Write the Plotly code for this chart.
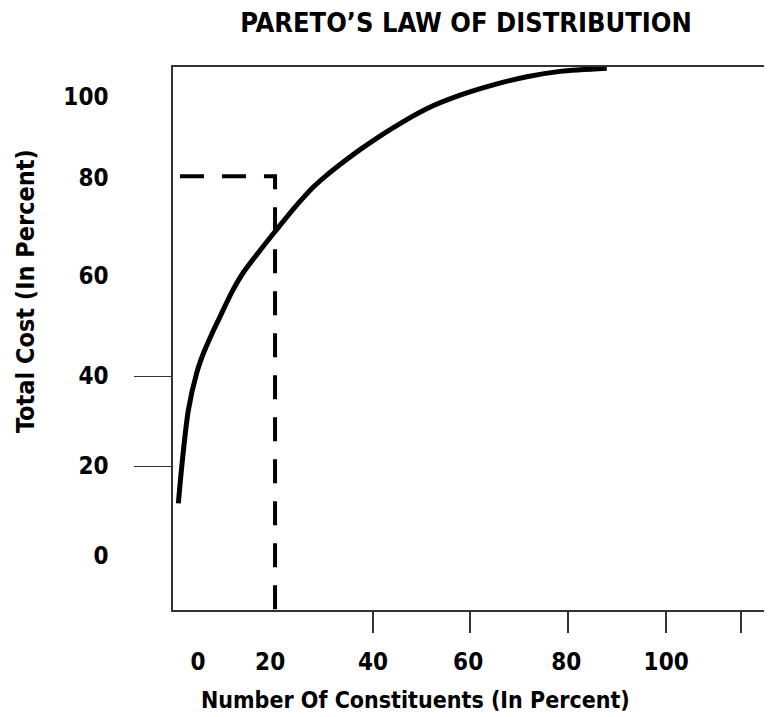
import plotly.graph_objects as go

# Curve (x: % of constituents, y: % of total cost)
curve_x = [0.27, 0.96, 2.31, 4.02, 5.37, 7.08, 8.78, 11.16, 13.53, 16.94, 20.0, 23.73, 27.82, 30.5, 33.27,
           37.35, 44.14, 50.96, 57.76, 64.55, 71.37, 78.16, 87.69]
curve_y = [11.7, 19.8, 32.4, 40.7, 45.0, 49.3, 53.2, 58.6, 63.0, 67.9, 72.1, 77.1, 82.0, 84.6, 87.0,
           90.3, 95.2, 99.4, 102.4, 104.7, 106.5, 107.7, 108.4]

# Dashed 20/80 guide
guide_x = [0.6, 20.0, 20.0]
guide_y = [84.4, 84.4, -12.0]

# Tick labels as placed in the picture
xtick_labels = ["0", "20", "40", "60", "80", "100"]
xtick_pos = [4.3, 19.0, 40.0, 59.4, 79.4, 99.8]
xtick_marks = [40.0, 59.8, 79.8, 99.8, 115.1]

ytick_labels = ["0", "20", "40", "60", "80", "100"]
ytick_pos = [0.0, 20.0, 40.0, 62.4, 84.0, 102.2]
ytick_marks = [20.0, 40.0]

x_range = [-0.82, 121.4]
y_range = [-12.0, 108.67]

FONT = "Liberation Sans Narrow, DejaVu Sans Condensed, Arial Narrow, sans-serif"

fig = go.Figure()
fig.add_trace(go.Scatter(x=curve_x, y=curve_y, mode="lines",
                         line=dict(color="black", width=5, shape="spline", smoothing=0.8),
                         hoverinfo="skip", showlegend=False))
fig.add_trace(go.Scatter(x=guide_x, y=guide_y, mode="lines", xaxis="x2", yaxis="y2",
                         line=dict(color="black", width=4, dash="24px,18px"),
                         hoverinfo="skip", showlegend=False))

axis_font = dict(family=FONT, size=24, color="black", weight="bold")

W, H = 764, 709
fig.update_layout(
    width=W, height=H,
    margin=dict(l=165, r=0, t=59, b=107),
    paper_bgcolor="white", plot_bgcolor="white",
    showlegend=False,
    title=dict(text="PARETO\u2019S LAW OF DISTRIBUTION", x=458/W, xanchor="center", y=1-15/H, yanchor="middle",
               font=dict(family=FONT, size=27, color="black", weight="bold")),
    xaxis=dict(range=x_range, showgrid=False, zeroline=False, showline=True, mirror=True,
               linecolor="#333", linewidth=1.5, tickmode="array", tickvals=xtick_pos, ticktext=xtick_labels,
               ticks="", tickfont=axis_font, ticklabelstandoff=29),
    yaxis=dict(range=y_range, showgrid=False, zeroline=False, showline=True, mirror=False,
               linecolor="#333", linewidth=1.5, tickmode="array", tickvals=ytick_pos, ticktext=ytick_labels,
               ticks="", tickfont=axis_font, ticklabelstandoff=58),
    xaxis2=dict(range=x_range, overlaying="x", anchor="y", side="bottom", showgrid=False, zeroline=False,
                showline=False, tickmode="array", tickvals=xtick_marks, showticklabels=False,
                ticks="outside", ticklen=22, tickwidth=1.5, tickcolor="#333"),
    yaxis2=dict(range=y_range, overlaying="y", anchor="x", side="left", showgrid=False, zeroline=False,
                showline=False, tickmode="array", tickvals=ytick_marks, showticklabels=False,
                ticks="outside", ticklen=38, tickwidth=1.2, tickcolor="#333"),
    annotations=[
        dict(text="Number Of Constituents (In Percent)", xref="paper", yref="paper",
             x=(415-173)/599, y=(610-700)/543, xanchor="center", yanchor="middle", showarrow=False,
             font=dict(family=FONT, size=23, color="black", weight="bold")),
        dict(text="Total Cost (In Percent)", xref="paper", yref="paper", textangle=-90,
             x=(25-173)/599, y=(610-291)/543, xanchor="center", yanchor="middle", showarrow=False,
             font=dict(family=FONT, size=25, color="black", weight="bold")),
    ],
)

fig.write_html("out.html")
